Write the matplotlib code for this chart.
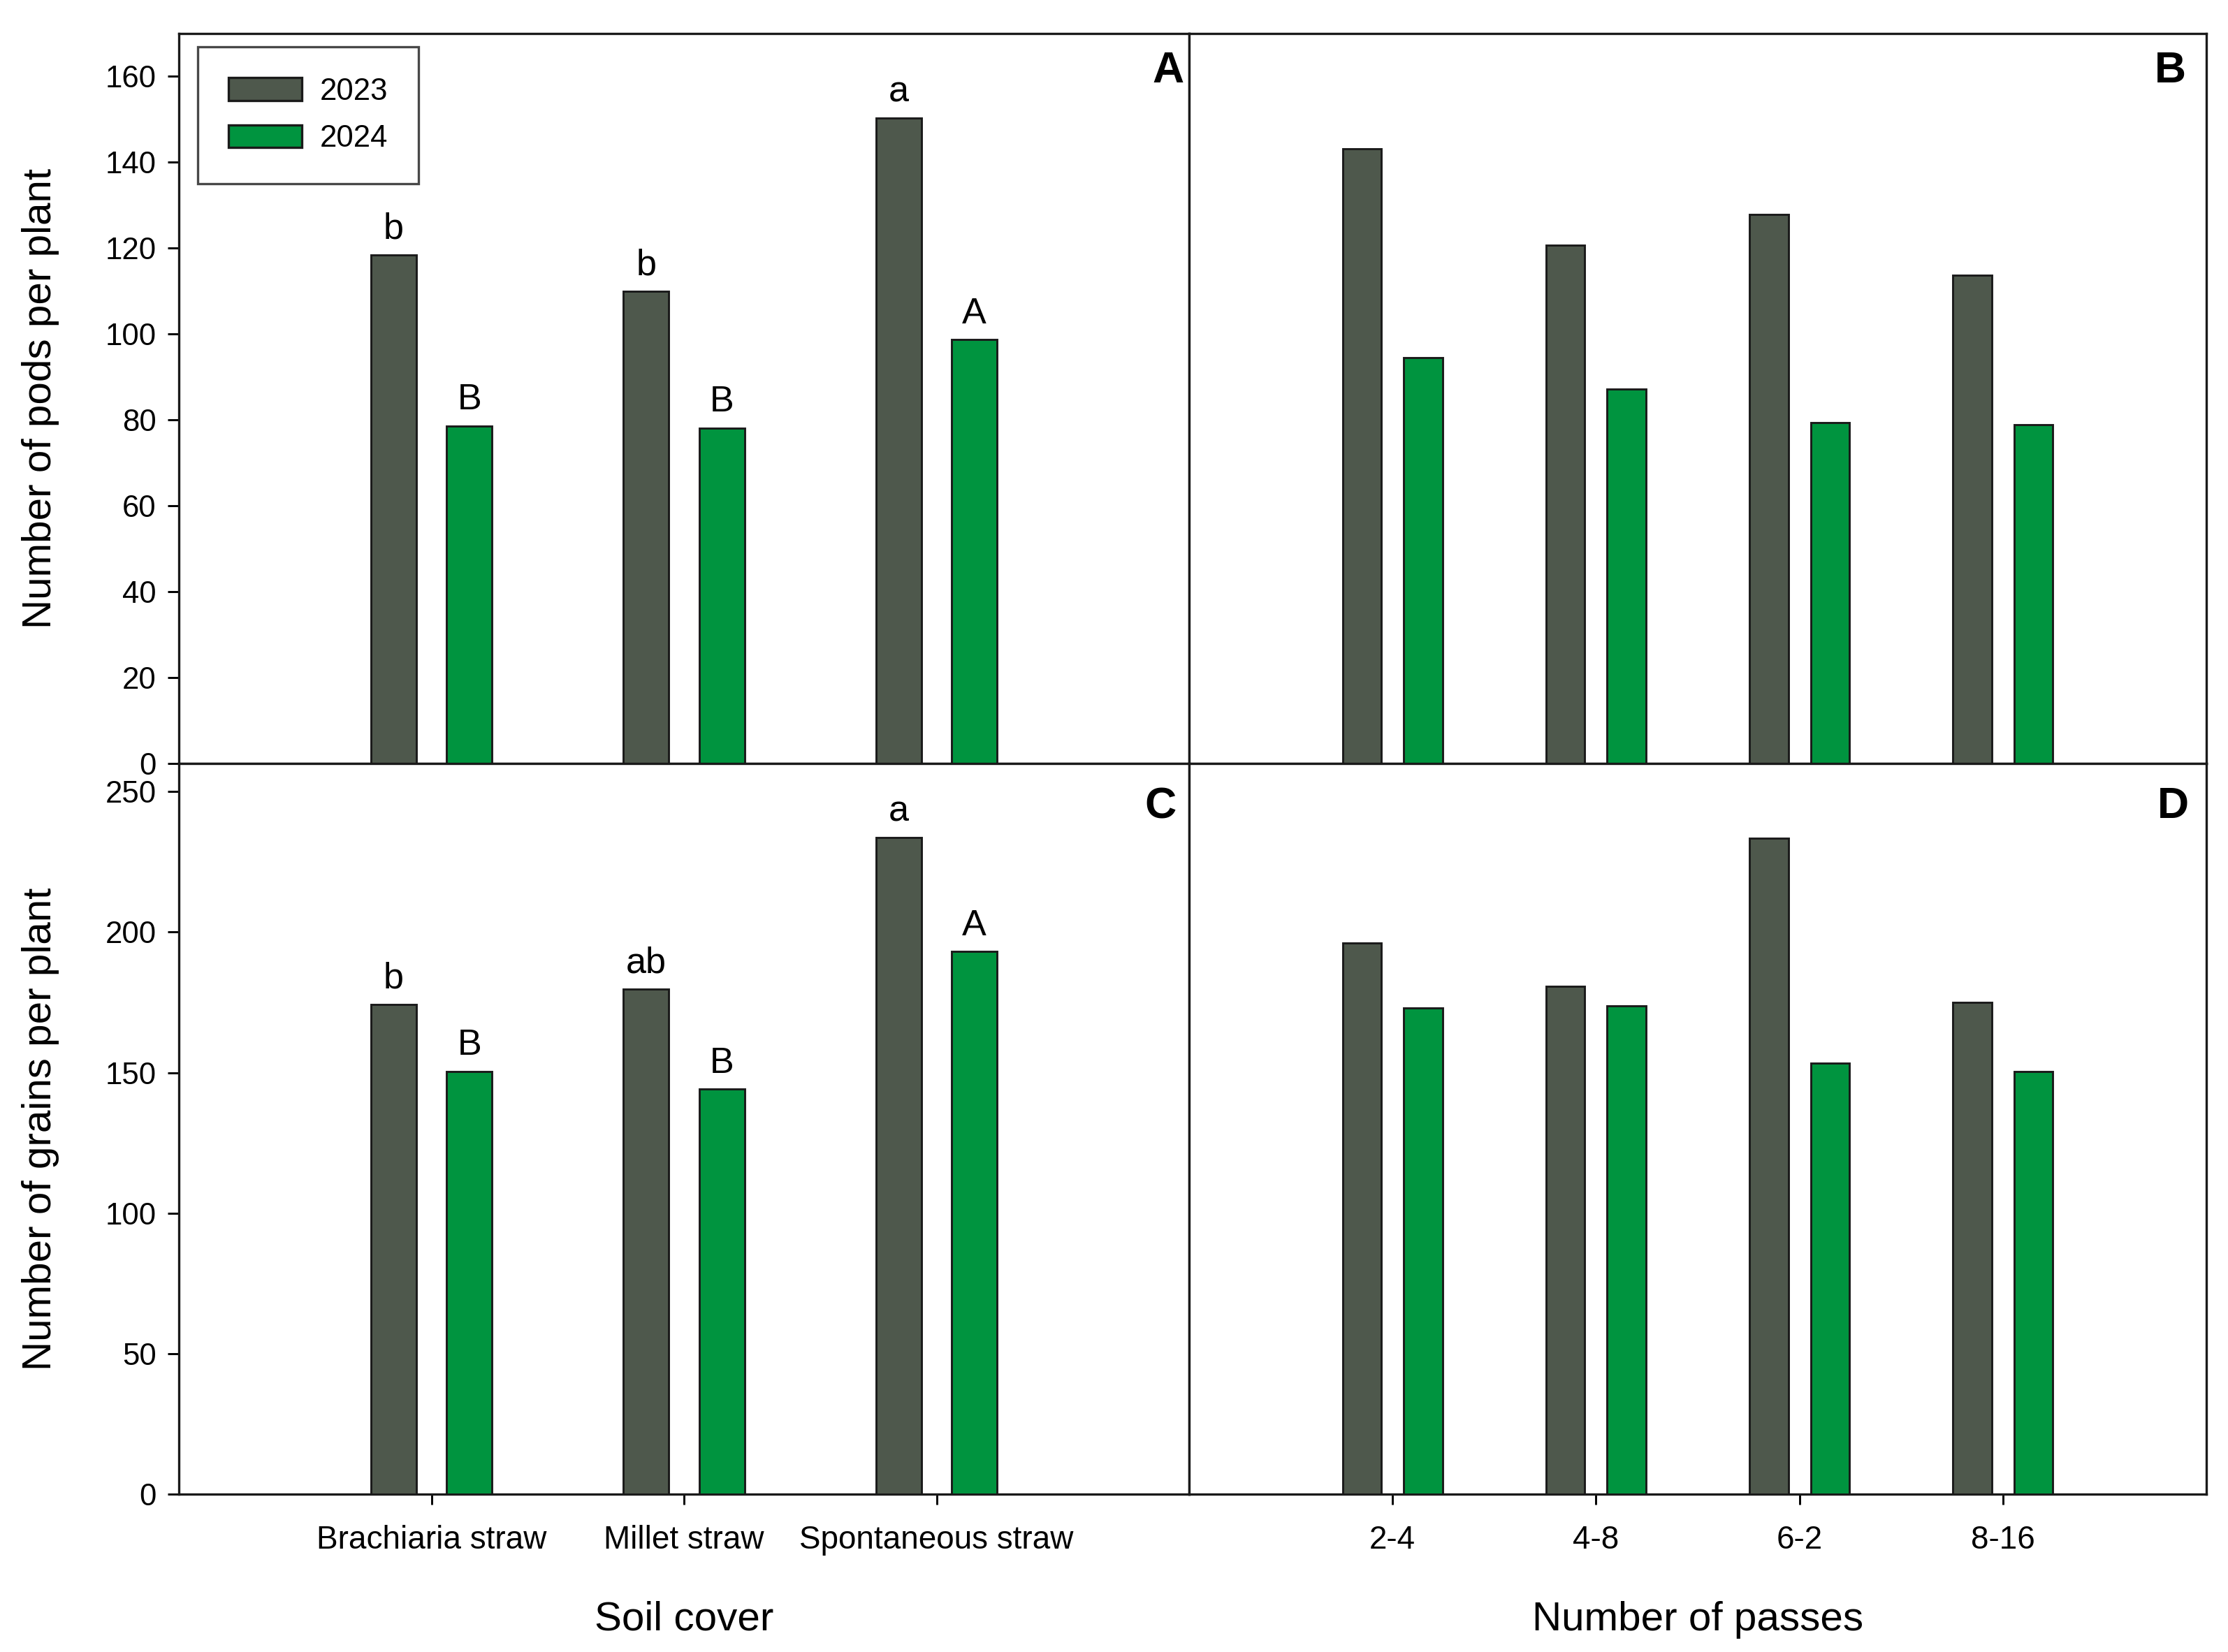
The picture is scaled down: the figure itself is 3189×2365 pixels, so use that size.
import numpy as np
import matplotlib
matplotlib.use('Agg')
from matplotlib import pyplot as plt
from matplotlib.patches import Patch

plt.rcParams['font.family'] = ['Liberation Sans', 'DejaVu Sans']

# datos
soil_cover = ['Brachiaria straw', 'Millet straw', 'Spontaneous straw']
passes = ['2-4', '4-8', '6-2', '8-16']

pods_soil_2023 = [118.4, 110.0, 150.3]
pods_soil_2024 = [78.6, 78.1, 98.7]
pods_pass_2023 = [143.1, 120.7, 127.9, 113.7]
pods_pass_2024 = [94.5, 87.2, 79.4, 78.9]

grains_soil_2023 = [174.3, 179.8, 233.7]
grains_soil_2024 = [150.4, 144.1, 193.1]
grains_pass_2023 = [196.1, 180.6, 233.3, 174.9]
grains_pass_2024 = [172.9, 173.7, 153.3, 150.4]

letras_pods_2023 = ['b', 'b', 'a']
letras_pods_2024 = ['B', 'B', 'A']
letras_grains_2023 = ['b', 'ab', 'a']
letras_grains_2024 = ['B', 'B', 'A']

c2023 = '#4E584C'
c2024 = '#00943F'

W, H = 3189, 2365
fig = plt.figure(figsize=(W / 300, H / 300), dpi=300)

x0, xm, x1 = 256 / W, 1702 / W, 3158 / W
ytop, ymid, ybot = 1 - 48 / H, 1 - 1093 / H, 1 - 2139 / H

axA = fig.add_axes([x0, ymid, xm - x0, ytop - ymid])
axB = fig.add_axes([xm, ymid, x1 - xm, ytop - ymid])
axC = fig.add_axes([x0, ybot, xm - x0, ymid - ybot])
axD = fig.add_axes([xm, ybot, x1 - xm, ymid - ybot])


def barras(ax, v23, v24, ancho, letras23=None, letras24=None):
    pos = np.arange(1, len(v23) + 1)
    b1 = ax.bar(pos - 0.15, v23, ancho, color=c2023, edgecolor='#1a1a1a', linewidth=0.7, zorder=3)
    b2 = ax.bar(pos + 0.15, v24, ancho, color=c2024, edgecolor='#1a1a1a', linewidth=0.7, zorder=3)
    if letras23:
        for p, v, t in zip(pos, v23, letras23):
            ax.annotate(t, (p - 0.15, v), xytext=(0, 3), textcoords='offset points',
                        ha='center', va='bottom', fontsize=12.5)
        for p, v, t in zip(pos, v24, letras24):
            ax.annotate(t, (p + 0.15, v), xytext=(0, 3), textcoords='offset points',
                        ha='center', va='bottom', fontsize=12.5)
    ax.set_xlim(0, len(v23) + 1)
    for s in ax.spines.values():
        s.set_linewidth(0.8)
        s.set_color('#1a1a1a')
    return b1, b2


barras(axA, pods_soil_2023, pods_soil_2024, 0.18, letras_pods_2023, letras_pods_2024)
barras(axB, pods_pass_2023, pods_pass_2024, 0.19)
barras(axC, grains_soil_2023, grains_soil_2024, 0.18, letras_grains_2023, letras_grains_2024)
barras(axD, grains_pass_2023, grains_pass_2024, 0.19)

for ax in (axA, axB):
    ax.set_ylim(0, 170)
for ax in (axC, axD):
    ax.set_ylim(0, 260)

axA.set_yticks(np.arange(0, 161, 20))
axC.set_yticks(np.arange(0, 251, 50))
for ax in (axA, axC):
    ax.tick_params(axis='y', direction='out', length=3.8, width=0.7, labelsize=10.5, pad=4)

for ax in (axB, axD):
    ax.set_yticks([])

for ax in (axA, axB):
    ax.set_xticks([])

axC.set_xticks(np.arange(1, 4))
axC.set_xticklabels(soil_cover)
axD.set_xticks(np.arange(1, 5))
axD.set_xticklabels(passes)
for ax in (axC, axD):
    ax.tick_params(axis='x', direction='out', length=3.6, width=0.7, labelsize=11, pad=7)

axA.set_ylabel('Number of pods per plant', fontsize=14)
axC.set_ylabel('Number of grains per plant', fontsize=14)
axA.yaxis.set_label_coords(-0.118, 0.5)
axC.yaxis.set_label_coords(-0.118, 0.5)
axC.set_xlabel('Soil cover', fontsize=14, labelpad=15.5)
axD.set_xlabel('Number of passes', fontsize=14, labelpad=15.5)

axA.text(0.995, 0.977, 'A', transform=axA.transAxes, ha='right', va='top', fontsize=15, fontweight='bold')
axB.text(0.980, 0.977, 'B', transform=axB.transAxes, ha='right', va='top', fontsize=15, fontweight='bold')
axC.text(0.987, 0.969, 'C', transform=axC.transAxes, ha='right', va='top', fontsize=15, fontweight='bold')
axD.text(0.983, 0.969, 'D', transform=axD.transAxes, ha='right', va='top', fontsize=15, fontweight='bold')

handles = [Patch(facecolor=c2023, edgecolor='#1a1a1a', linewidth=0.8, label='2023'),
           Patch(facecolor=c2024, edgecolor='#1a1a1a', linewidth=0.8, label='2024')]
leg = axA.legend(handles=handles, loc='upper left', bbox_to_anchor=(27 / 1446, 1 - 19 / 1045),
                 fontsize=10.5, frameon=True, fancybox=False, edgecolor='#1a1a1a',
                 handlelength=2.4, handleheight=0.75, handletextpad=0.6,
                 borderpad=1.0, labelspacing=0.6, borderaxespad=0)
leg.get_frame().set_linewidth(0.8)

plt.savefig('out.png', dpi=300)
